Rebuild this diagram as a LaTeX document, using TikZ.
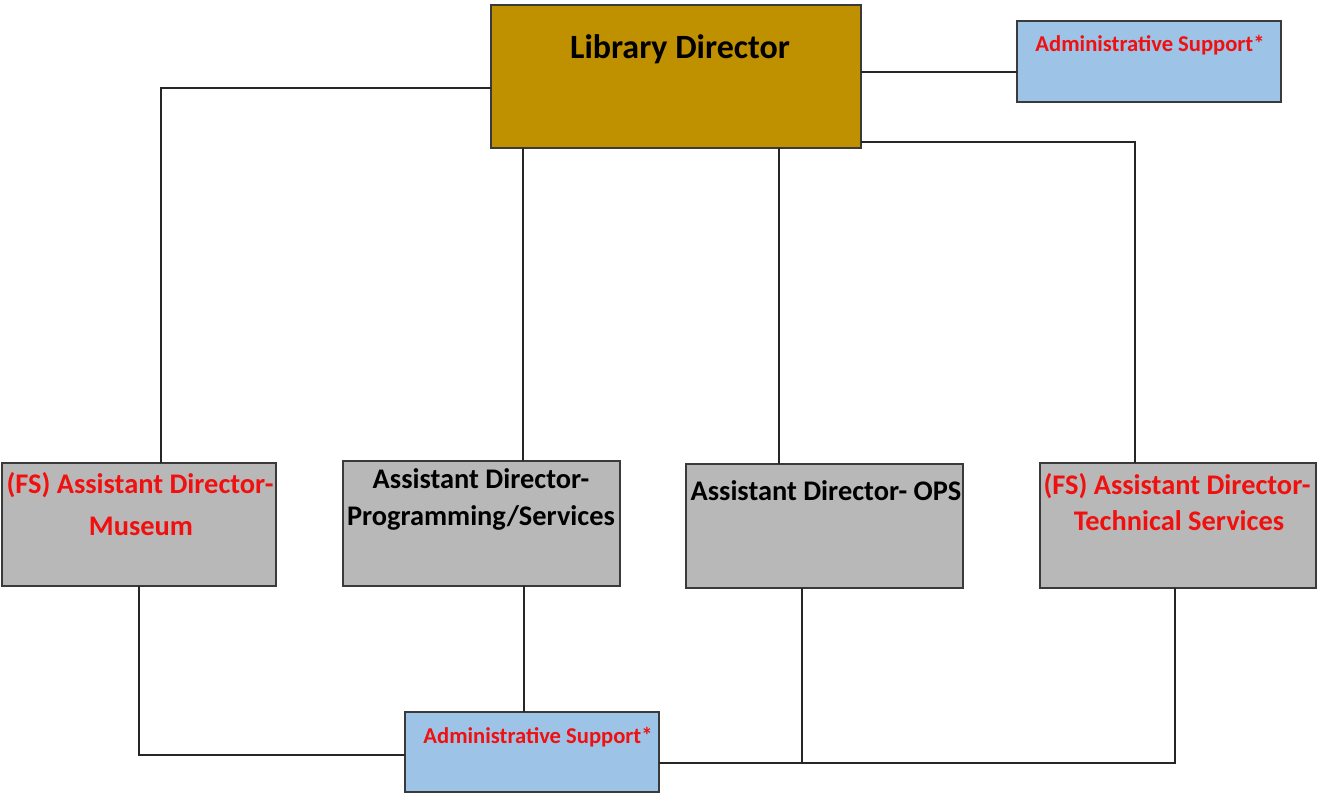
\documentclass[tikz,border=0pt]{standalone}
\usepackage{fontspec}
\setmainfont{Carlito}
\usetikzlibrary{fit}
\definecolor{gold}{HTML}{BF9000}
\definecolor{paleblue}{HTML}{9DC3E6}
\definecolor{boxgray}{HTML}{B8B8B8}
\definecolor{edge}{HTML}{3A3A3A}
\definecolor{alert}{HTML}{F01010}
\tikzset{
  box/.style={draw=edge, line width=1.6pt, inner sep=0pt, outer sep=0pt, rectangle},
  link/.style={draw=black!85, line width=1.3pt},
  txt/.style={inner sep=0pt, anchor=base, font=\bfseries\fontsize{28.4}{30}\selectfont},
  bigtxt/.style={inner sep=0pt, anchor=base, font=\bfseries\fontsize{34}{38}\selectfont},
  smalltxt/.style={inner sep=0pt, anchor=base, text=alert, font=\bfseries\fontsize{22.6}{26}\selectfont},
  redtxt/.style={text=alert},
}
\begin{document}
\begin{tikzpicture}[x=1pt, y=-1pt]
\useasboundingbox (0,0) rectangle (1319,794);

% boxes, corners in px with y growing downward
\node[box, fill=gold, fit={(491,5)(861,148)}] (ld) {};
\node[box, fill=paleblue, fit={(1017,21)(1281,102)}] (adminTop) {};
\node[box, fill=boxgray, fit={(2,463)(276,586)}] (museum) {};
\node[box, fill=boxgray, fit={(343,461)(620,586)}] (prog) {};
\node[box, fill=boxgray, fit={(686,464)(963,588)}] (ops) {};
\node[box, fill=boxgray, fit={(1040,463)(1316,588)}] (tech) {};
\node[box, fill=paleblue, fit={(405,712)(659,792)}] (adminBot) {};

% labels
\node[bigtxt] (ldT) at (680,59) {Library Director};
\node[smalltxt] (adminTopT) at (1150,52) {Administrative Support*};
\node[txt, redtxt] (museumT1) at (140,493) {(FS) Assistant Director-};
\node[txt, redtxt] (museumT2) at (141,535) {Museum};
\node[txt] (progT1) at (481,488) {Assistant Director-};
\node[txt] (progT2) at (481,525) {Programming/Services};
\node[txt] (opsT) at (826,500) {Assistant Director- OPS};
\node[txt, redtxt] (techT1) at (1177,494) {(FS) Assistant Director-};
\node[txt, redtxt] (techT2) at (1179,530) {Technical Services};
\node[smalltxt] (adminBotT) at (538,743) {Administrative Support*};

% junction on the bottom bus
\coordinate (busOps) at (802,763);

% reporting lines from the director
\draw[link] (ld.west |- 0,88) -| (161,0 |- museum.north);
\draw[link] (523,0 |- ld.south) -- (523,0 |- prog.north);
\draw[link] (779,0 |- ld.south) -- (779,0 |- ops.north);
\draw[link] (ld.east |- 0,142) -| (1135,0 |- tech.north);
\draw[link] (ld.east |- 0,72) -- (adminTop.west |- 0,72);

% lines to the shared administrative support
\draw[link] (139,0 |- museum.south) |- (adminBot.west |- 0,755);
\draw[link] (524,0 |- prog.south) -- (524,0 |- adminBot.north);
\draw[link] (802,0 |- ops.south) -- (busOps);
\draw[link] (1175,0 |- tech.south) |- (adminBot.east |- busOps);
\end{tikzpicture}
\end{document}
